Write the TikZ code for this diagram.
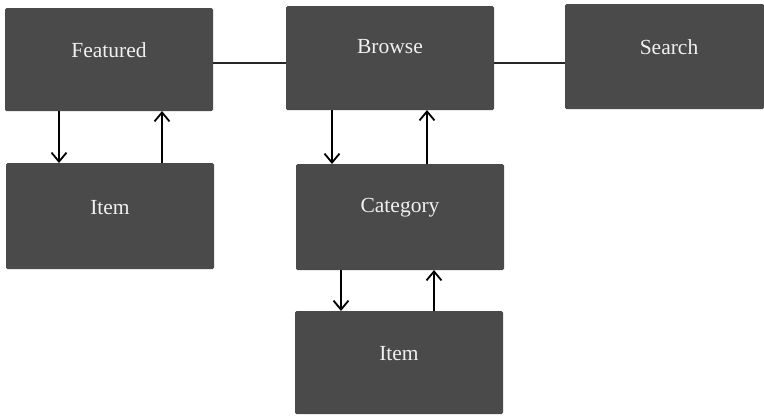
\documentclass[tikz,border=0pt]{standalone}
\usepackage{fontspec}
\setmainfont{Liberation Serif}
\usetikzlibrary{arrows.meta}
\definecolor{boxgray}{HTML}{4A4A4A}
\definecolor{boxtext}{HTML}{F0F0F0}
\tikzset{
  screen/.style={fill=boxgray, draw=none, rounded corners=1.5pt},
  label/.style={text=boxtext, font=\fontsize{21.5}{25}\selectfont, inner sep=0pt},
  link/.style={draw=black!85, line width=1.2pt},
  flow/.style={draw=black, line width=1.8pt, -{Straight Barb[length=9pt,width=15pt,line width=1.8pt]}},
}
\begin{document}
\begin{tikzpicture}[x=1pt,y=-1pt]
\useasboundingbox (0,0) rectangle (764,416);
% screens
\path[screen] (5,8) rectangle (213,111);
\path[screen] (286,6) rectangle (494,110);
\path[screen] (565,4) rectangle (764,109);
\path[screen] (6,163) rectangle (214,269);
\path[screen] (296,164) rectangle (504,270);
\path[screen] (295,311) rectangle (503,414);
% screen names
\node[label] (featured) at (109,50) {Featured};
\node[label] (browse) at (390,47) {Browse};
\node[label] (search) at (669,47) {Search};
\node[label] (item1) at (110,208) {Item};
\node[label] (category) at (400,208) {Category};
\node[label] (item2) at (399,354) {Item};
% anchor points on the box edges
\coordinate (fR) at (213,63);
\coordinate (bL) at (286,63);
\coordinate (bR) at (494,63);
\coordinate (sL) at (565,63);
\coordinate (fB1) at (59,111);
\coordinate (iT1) at (59,163);
\coordinate (iT2) at (162,163);
\coordinate (fB2) at (162,111);
\coordinate (bB1) at (332,110);
\coordinate (cT1) at (332,164);
\coordinate (cT2) at (427,164);
\coordinate (bB2) at (427,110);
\coordinate (cB1) at (341,270);
\coordinate (jT1) at (341,311);
\coordinate (jT2) at (434,311);
\coordinate (cB2) at (434,270);
% horizontal links
\draw[link] (fR) -- (bL);
\draw[link] (bR) -- (sL);
% navigation arrows
\draw[flow] (fB1) -- (iT1);
\draw[flow] (iT2) -- (fB2);
\draw[flow] (bB1) -- (cT1);
\draw[flow] (cT2) -- (bB2);
\draw[flow] (cB1) -- (jT1);
\draw[flow] (jT2) -- (cB2);
\end{tikzpicture}
\end{document}
